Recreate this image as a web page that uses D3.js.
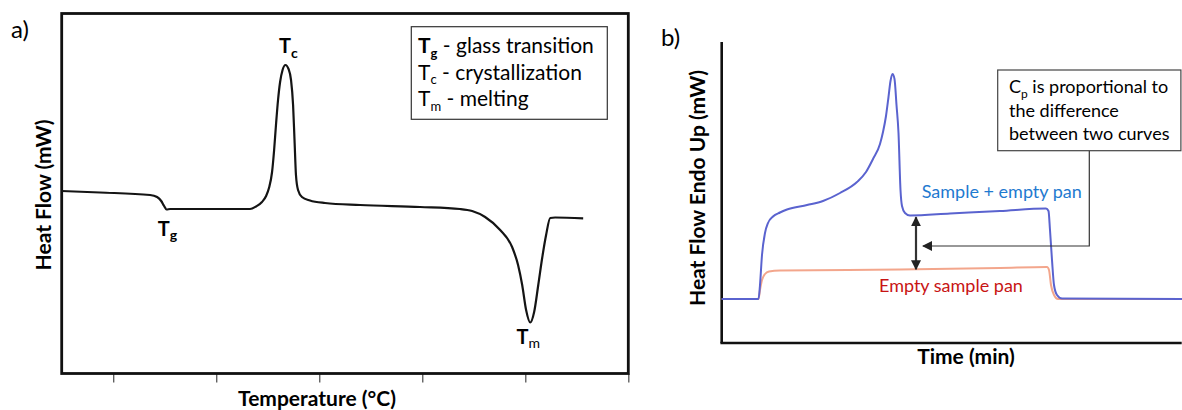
<!DOCTYPE html>
<html>
<head>
<meta charset="utf-8">
<script src="https://cdn.jsdelivr.net/npm/d3@7"></script>
<style>
  body { margin: 0; background: #fff; }
  svg { display: block; font-family: Lato, "Open Sans", sans-serif; }
</style>
</head>
<body>
<div class="dsc-chart"></div>
<script>
// ---- data (arbitrary units) ----

// panel a: DSC thermogram, temperature vs heat flow
var tempA = [25, 43.6, 67.9, 71.3, 73.3, 74.7, 75.9, 77.6, 92.1, 116.4, 119.3, 122.2, 124.2,
    125.6, 127.1, 128.1, 129.0, 130.0, 131.0, 132.2, 133.6, 135.1, 136.3, 137.3, 138.0,
    138.7, 139.7, 141.6, 145.5, 152.8, 169.8, 198.9, 218.3, 224.2, 230.5, 237.8, 243.6,
    246.5, 248.5, 250.4, 252.4, 254.3, 256.3, 258.2, 260.1, 262.1, 264.5, 278.1];
var flowA = [182.5, 181, 178.5, 176.5, 172.5, 167.5, 164, 164.5, 164.5, 164.5, 167, 171.5, 177.5,
    185.5, 201.5, 223.5, 248.5, 273.5, 291.5, 303.5, 308.5, 304.5, 293.5, 268.5, 233.5,
    198.5, 183.5, 176.5, 173, 170.5, 168.5, 166.5, 164.5, 162.5, 156.5, 143.5, 126.5,
    108.5, 88.5, 63.5, 51, 61.5, 88.5, 115.5, 138.5, 155.5, 156, 155.2];
var tempTicks = [50, 100, 150, 200, 250, 300];

// panel b: heat flow vs time, sample + pan and empty pan
var timeSample = [0, 3.68, 3.83, 4.03, 4.33, 4.63, 5.13, 5.83, 6.53, 8.53, 10.13, 11.83, 13.53,
    14.43, 15.13, 15.83, 16.13, 16.43, 16.68, 16.88, 17.08, 17.28, 17.48, 17.68, 17.88, 18.03,
    18.33, 18.83, 22.83, 27.83, 32.43, 32.68, 32.83, 33.03, 33.23, 33.53, 34.03, 46.03];
var flowSample = [44, 44, 58, 88, 110, 120, 126.5, 130.5, 133.5, 138, 142, 150, 161,
    171, 184, 199, 211, 227, 246, 262, 269, 264, 238, 210, 153, 137,
    130, 127.5, 129.5, 132, 134.5, 132, 113, 83, 58, 48, 44.5, 44];
var timeEmpty = [0, 3.68, 3.83, 4.03, 4.33, 4.73, 5.83, 17.83, 27.83, 32.53, 32.73, 32.93, 33.23, 33.63, 46.03];
var flowEmpty = [44, 44, 53, 63, 69, 71.5, 72.5, 73.5, 75, 76, 73, 58, 48, 44, 44];

var svg = d3.select(".dsc-chart").append("svg")
    .attr("width", 1182)
    .attr("height", 410);

// label with a subscript, e.g. T + c
function subLabel(g, x, y, main, sub, size, subSize, weight, subWeight, anchor) {
    var t = g.append("text")
        .attr("x", x)
        .attr("y", y)
        .style("font-size", size + "px")
        .style("font-weight", weight)
        .style("text-anchor", anchor || "start");
    t.append("tspan").text(main);
    t.append("tspan")
        .attr("dy", subSize * 0.35)
        .style("font-size", subSize + "px")
        .style("font-weight", subWeight)
        .text(sub);
    return t;
}

// ================= panel a =================
var xA = d3.scaleLinear().domain([25, 300]).range([61.7, 628.3]);
var yA = d3.scaleLinear().domain([0, 360]).range([373.5, 13.5]);
var pa = svg.append("g");

pa.append("g")
    .attr("transform", `translate(0, ${yA(0)})`)
    .call(d3.axisBottom(xA).tickValues(tempTicks).tickSize(9).tickFormat(""))
    .call(function(g) { g.select(".domain").remove(); })
    .selectAll("line")
    .attr("stroke", "#555")
    .attr("stroke-width", 1.3);

pa.append("rect")
    .attr("x", xA(25))
    .attr("y", yA(360))
    .attr("width", xA(300) - xA(25))
    .attr("height", yA(0) - yA(360))
    .attr("fill", "none")
    .attr("stroke", "#111")
    .attr("stroke-width", 2.8);

var lineA = d3.line()
    .x(function(d) { return xA(d[0]); })
    .y(function(d) { return yA(d[1]); })
    .curve(d3.curveMonotoneX);

pa.append("path")
    .datum(d3.zip(tempA, flowA))
    .attr("fill", "none")
    .attr("stroke", "#141414")
    .attr("stroke-width", 2.2)
    .attr("d", lineA);

// peak labels
subLabel(pa, xA(75.9) + 1, yA(164) + 26, "T", "g", 20, 14, "bold", "bold", "middle");
subLabel(pa, xA(133.6) + 3, yA(308.5) - 12, "T", "c", 20, 14, "bold", "bold", "middle");
subLabel(pa, xA(252.4) - 2, yA(51) + 21, "T", "m", 20, 14, "bold", "normal", "middle");

// legend box
pa.append("rect")
    .attr("x", 411.3)
    .attr("y", 26.7)
    .attr("width", 196)
    .attr("height", 92.6)
    .attr("fill", "#fff")
    .attr("stroke", "#333")
    .attr("stroke-width", 1.2);

var leg = [
    { sub: "g", text: " - glass transition", bold: true },
    { sub: "c", text: " - crystallization", bold: false },
    { sub: "m", text: " - melting", bold: false }
];
leg.forEach(function(d, i) {
    var t = subLabel(pa, 418, 53 + i * 26.5, "T", d.sub, 21, 13,
        d.bold ? "bold" : "normal", d.bold ? "bold" : "normal");
    t.append("tspan")
        .attr("dy", -13 * 0.35)
        .style("font-weight", "normal")
        .text(d.text);
});

pa.append("text")
    .attr("x", 11)
    .attr("y", 38)
    .style("font-size", "24px")
    .text("a)");

pa.append("text")
    .attr("x", (xA(25) + xA(300)) / 2 - 28)
    .attr("y", 406)
    .style("font-size", "21px")
    .style("font-weight", "bold")
    .style("text-anchor", "middle")
    .text("Temperature (°C)");

pa.append("text")
    .attr("transform", "rotate(-90)")
    .attr("x", -195)
    .attr("y", 51)
    .style("font-size", "21px")
    .style("font-weight", "bold")
    .style("text-anchor", "middle")
    .text("Heat Flow (mW)");

// ================= panel b =================
var xB = d3.scaleLinear().domain([0, 46]).range([721.7, 1181.7]);
var yB = d3.scaleLinear().domain([0, 301]).range([343, 42]);
var pb = svg.append("g");

var defs = svg.append("defs");
defs.append("marker")
    .attr("id", "head")
    .attr("viewBox", "0 0 10 10")
    .attr("refX", 9)
    .attr("refY", 5)
    .attr("markerWidth", 10)
    .attr("markerHeight", 10)
    .attr("markerUnits", "userSpaceOnUse")
    .attr("orient", "auto-start-reverse")
    .append("path")
    .attr("d", "M0,0 L10,5 L0,10 Z")
    .attr("fill", "#222");

pb.append("line")
    .attr("x1", xB(0)).attr("x2", xB(0))
    .attr("y1", yB(301)).attr("y2", yB(0))
    .attr("stroke", "#111").attr("stroke-width", 2.6);
pb.append("line")
    .attr("x1", xB(0) - 1.3).attr("x2", xB(46))
    .attr("y1", yB(0)).attr("y2", yB(0))
    .attr("stroke", "#111").attr("stroke-width", 2.6);

var lineB = d3.line()
    .x(function(d) { return xB(d[0]); })
    .y(function(d) { return yB(d[1]); })
    .curve(d3.curveMonotoneX);

pb.append("path")
    .datum(d3.zip(timeEmpty, flowEmpty))
    .attr("fill", "none")
    .attr("stroke", "#f3a68c")
    .attr("stroke-width", 2)
    .attr("d", lineB);

pb.append("path")
    .datum(d3.zip(timeSample, flowSample))
    .attr("fill", "none")
    .attr("stroke", "#5a63cf")
    .attr("stroke-width", 2)
    .attr("d", lineB);

// difference arrow between the two curves
var tArrow = 19.43;
var topV = d3.interpolateNumber(127.5, 129.5)((tArrow - 18.83) / 4);
var botV = d3.interpolateNumber(73.5, 75)((tArrow - 17.83) / 10);
pb.append("line")
    .attr("x1", xB(tArrow)).attr("x2", xB(tArrow))
    .attr("y1", yB(topV) + 2).attr("y2", yB(botV))
    .attr("stroke", "#333")
    .attr("stroke-width", 2.2)
    .attr("marker-start", "url(#head)")
    .attr("marker-end", "url(#head)");

// callout box
var box = { x: xB(27.6), y: 70, w: xB(46) - xB(27.6), h: 80.7 };
pb.append("polyline")
    .attr("points", [[xB(36.76), box.y + box.h], [xB(36.76), yB(97)], [xB(20.13), yB(97)]].join(" "))
    .attr("fill", "none")
    .attr("stroke", "#333")
    .attr("stroke-width", 1.2)
    .attr("marker-end", "url(#head)");

pb.append("rect")
    .attr("x", box.x)
    .attr("y", box.y)
    .attr("width", box.w - 0.8)
    .attr("height", box.h)
    .attr("fill", "#fff")
    .attr("stroke", "#444")
    .attr("stroke-width", 1.2);

var cp = subLabel(pb, box.x + 11.3, 93.3, "C", "p", 18, 12, "normal", "normal");
cp.append("tspan").attr("dy", -12 * 0.35).text(" is proportional to");
pb.append("text").attr("x", box.x + 11.3).attr("y", 116.5).style("font-size", "18px").text("the difference");
pb.append("text").attr("x", box.x + 11.3).attr("y", 139.5).style("font-size", "18px").text("between two curves");

pb.append("text")
    .attr("x", xB(20))
    .attr("y", yB(145))
    .style("font-size", "18px")
    .attr("fill", "#1f7ad0")
    .text("Sample + empty pan");

pb.append("text")
    .attr("x", xB(15.73))
    .attr("y", yB(51.3))
    .style("font-size", "18px")
    .attr("fill", "#c81414")
    .text("Empty sample pan");

pb.append("text")
    .attr("x", 661)
    .attr("y", 46)
    .style("font-size", "24px")
    .text("b)");

pb.append("text")
    .attr("x", 966)
    .attr("y", 364)
    .style("font-size", "21px")
    .style("font-weight", "bold")
    .style("text-anchor", "middle")
    .text("Time (min)");

pb.append("text")
    .attr("transform", "rotate(-90)")
    .attr("x", -188)
    .attr("y", 705)
    .style("font-size", "21px")
    .style("font-weight", "bold")
    .style("text-anchor", "middle")
    .text("Heat Flow Endo Up (mW)");
</script>
</body>
</html>
